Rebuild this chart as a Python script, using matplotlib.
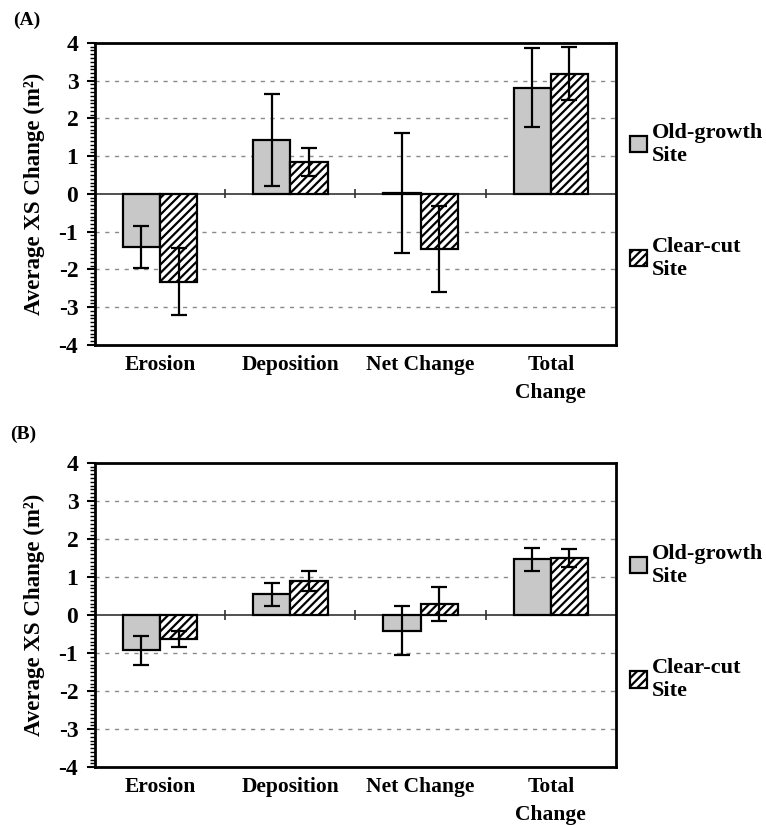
import numpy as np
import matplotlib.pyplot as plt

plt.rcParams['font.family'] = ['Liberation Serif', 'DejaVu Serif']
plt.rcParams['font.weight'] = 'bold'
plt.rcParams['hatch.linewidth'] = 1.6
plt.rcParams['axes.unicode_minus'] = False

categories = ['Erosion', 'Deposition', 'Net Change', 'Total\nChange']
series = ['Old-growth\nSite', 'Clear-cut\nSite']

# panel A
a_old = [-1.41, 1.43, 0.02, 2.81]
a_old_err = [0.55, 1.22, 1.58, 1.05]
a_clear = [-2.33, 0.85, -1.46, 3.18]
a_clear_err = [0.89, 0.37, 1.14, 0.70]

# panel B
b_old = [-0.93, 0.54, -0.41, 1.46]
b_old_err = [0.38, 0.31, 0.64, 0.29]
b_clear = [-0.63, 0.89, 0.29, 1.50]
b_clear_err = [0.20, 0.27, 0.44, 0.23]

fig = plt.figure(figsize=(7.66, 8.25), dpi=100)
axA = fig.add_axes([0.124, 0.582, 0.680, 0.366])
axB = fig.add_axes([0.124, 0.070, 0.680, 0.369])

w = 0.286
x = np.arange(len(categories))


def draw(ax, old, old_err, clear, clear_err):
    ax.set_xlim(-0.5, len(categories) - 0.5)
    ax.set_ylim(-4, 4)
    for yy in [-3, -2, -1, 1, 2, 3]:
        ax.axhline(yy, color='#8a8a8a', lw=1.0, ls=(0, (3, 4)), zorder=0)
    ax.axhline(0, color='#333333', lw=1.2, zorder=1)
    # category separators on the zero line
    sep = np.arange(len(categories) - 1) + 0.5
    ax.vlines(sep, -0.12, 0.12, color='#333333', lw=1.2, zorder=1)

    ax.bar(x - w / 2, old, w, color='#c8c8c8', edgecolor='black', lw=1.6, zorder=2,
           label=series[0])
    ax.bar(x + w / 2, clear, w, color='white', edgecolor='black', lw=1.6, hatch='////',
           zorder=2, label=series[1])
    ax.errorbar(x - w / 2, old, yerr=old_err, fmt='none', ecolor='black', elinewidth=1.6,
                capsize=6, capthick=1.6, zorder=3)
    ax.errorbar(x + w / 2, clear, yerr=clear_err, fmt='none', ecolor='black', elinewidth=1.6,
                capsize=6, capthick=1.6, zorder=3)

    ax.set_yticks(np.arange(-4, 5))
    ax.set_yticks(np.arange(-4, 4.01, 0.1), minor=True)
    ax.tick_params(axis='y', which='major', direction='out', length=6, width=1.5,
                   labelsize=17, pad=6)
    ax.tick_params(axis='y', which='minor', direction='out', length=3.5, width=1.0)
    ax.set_xticks(x)
    ax.set_xticklabels(categories, fontsize=15.5, fontweight='bold', linespacing=1.55,
                       va='top')
    ax.tick_params(axis='x', length=0, pad=7)
    for s in ax.spines.values():
        s.set_linewidth(2)
    ax.set_ylabel('Average XS Change (m²)', fontsize=16.5, fontweight='bold',
                  labelpad=10)

    leg = ax.legend(loc='center left', bbox_to_anchor=(1.01, 0.475), frameon=False,
                    fontsize=16, handlelength=0.75, handleheight=0.75, handletextpad=0.25,
                    labelspacing=3.2, borderaxespad=0)
    for t in leg.get_texts():
        t.set_fontweight('bold')


draw(axA, a_old, a_old_err, a_clear, a_clear_err)
draw(axB, b_old, b_old_err, b_clear, b_clear_err)

fig.text(0.017, 0.975, '(A)', fontsize=14, fontweight='bold', va='center')
fig.text(0.013, 0.473, '(B)', fontsize=14, fontweight='bold', va='center')

plt.savefig('out.png', dpi=100)
